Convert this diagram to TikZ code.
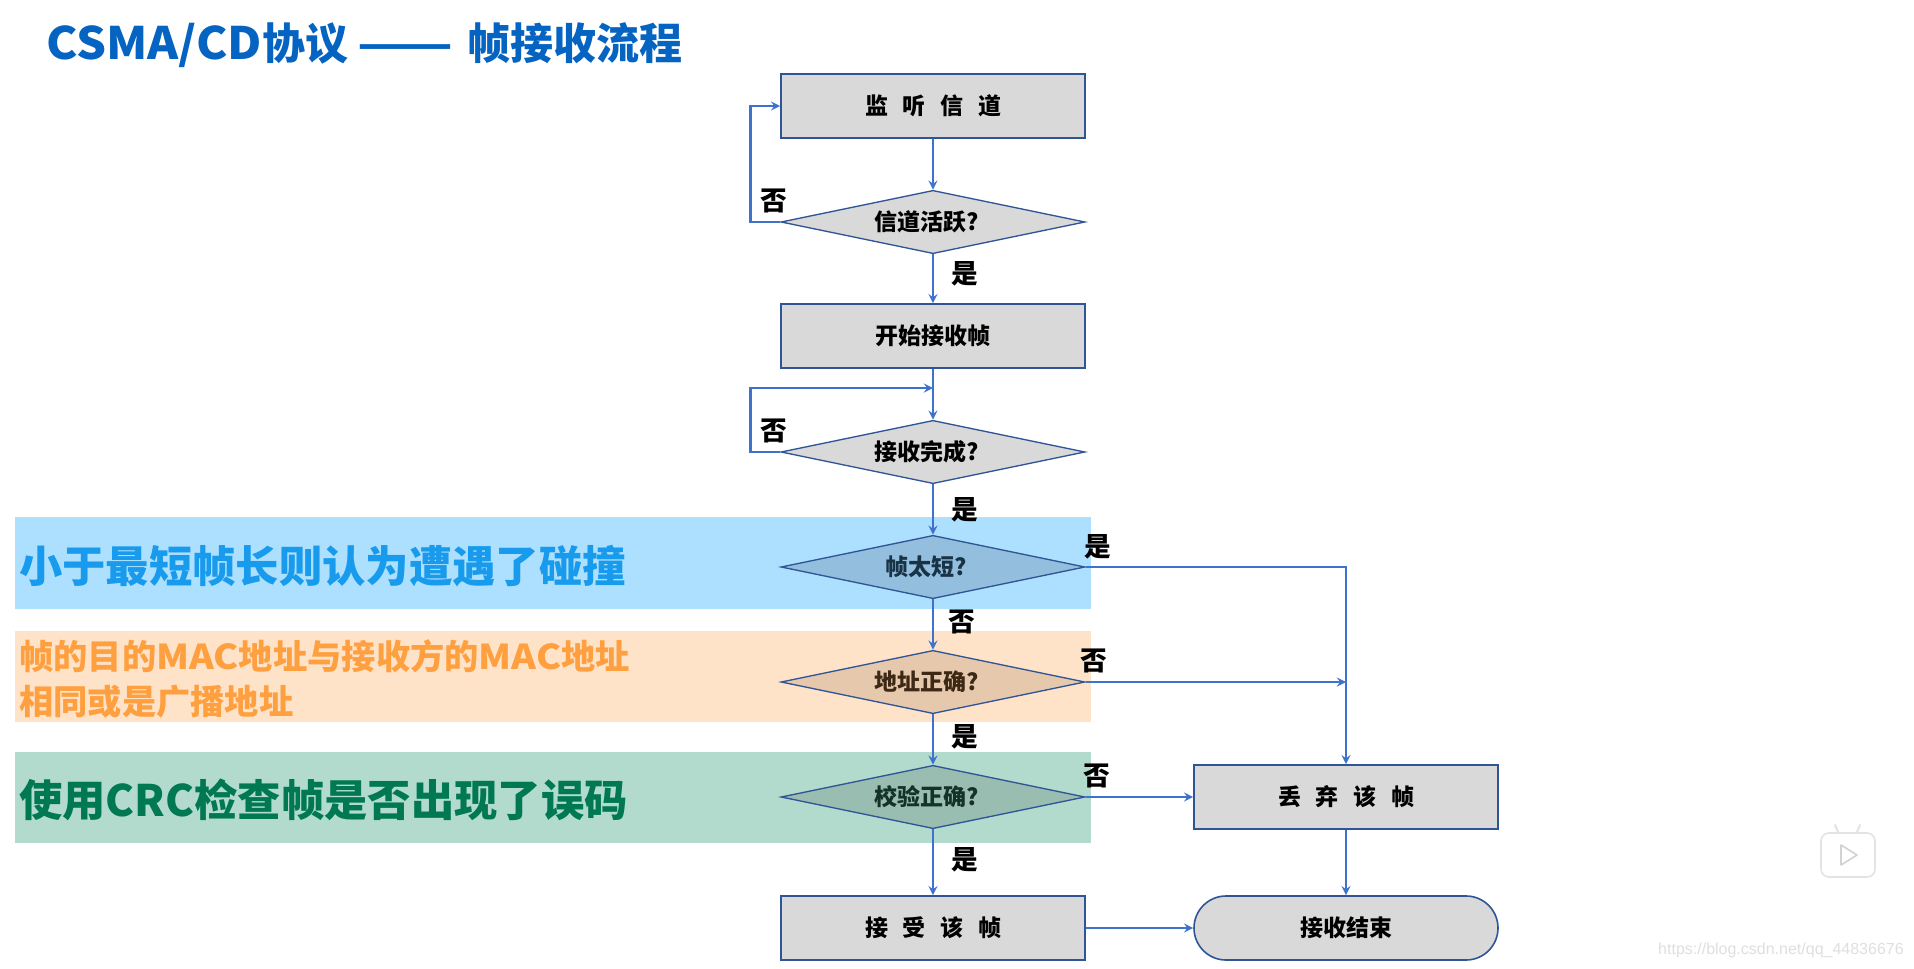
\documentclass[tikz,border=0pt]{standalone}
\usepackage{fontspec}
\usepackage{tikz}
\usetikzlibrary{shapes.geometric}
\newfontfamily\cjk{Noto Sans CJK SC}
\newfontfamily\wide{Noto Sans CJK SC}[FakeStretch=1.055]
\newfontfamily\mac{Noto Sans CJK SC}[FakeStretch=1.1]
\newfontfamily\dashes{Noto Sans CJK SC}[FakeStretch=1.3]
\setsansfont{Liberation Sans}
\definecolor{linec}{HTML}{3F72CC}
\definecolor{edgec}{HTML}{2F5597}
\definecolor{boxc}{HTML}{D9D9D9}
\definecolor{titlec}{HTML}{0563C1}
\tikzset{
    procbox/.style={draw=edgec, line width=1.2pt, fill=boxc, minimum width=228pt, minimum height=48pt, inner sep=0pt,
        font={\cjk\bfseries\fontsize{17.25}{20}\selectfont\spaceskip 11pt\relax}},
    decide/.style={diamond, aspect=4.8, draw=edgec, line width=1pt, fill=boxc, minimum width=228pt, minimum height=47.5pt, inner sep=0pt,
        font=\cjk\bfseries\fontsize{17.25}{20}\selectfont, execute at end node=\hspace{10pt}},
    lbl/.style={font=\cjk\bfseries\fontsize{20}{24}\selectfont, inner sep=0pt},
    bandtext/.style={anchor=west, inner sep=0pt, font=\cjk\bfseries\fontsize{32.5}{38}\selectfont},
    flow/.style={->, draw=linec, line width=2pt}
}
\begin{document}
\begin{tikzpicture}[>=stealth, x=0.75pt, y=-0.75pt]
    \useasboundingbox (0,0) rectangle (1914,968);
    \fill [white] (0,0) rectangle (1914,968);

    \fill [color={rgb,255:red,173;green,224;blue,255}] (15,517) rectangle (1091,609);
    \fill [color={rgb,255:red,255;green,227;blue,201}] (15,631) rectangle (1091,722);
    \fill [color={rgb,255:red,178;green,219;blue,206}] (15,752) rectangle (1091,843);

    \node (title) [anchor=west, inner sep=0pt, text=titlec, font=\cjk\bfseries\fontsize{32.25}{38}\selectfont] at (46,45) {{\wide\bfseries\fontsize{33.5}{38}\selectfont CSMA/CD}协议 {\dashes\bfseries\fontsize{32.25}{38}\selectfont ——}\hspace{3pt} 帧接收流程};
    \node (note1) [bandtext, text={rgb,255:red,24;green,155;blue,236}] at (19,566) {小于最短帧长则认为遭遇了碰撞};
    \node (note2) [bandtext, align=left, text={rgb,255:red,255;green,160;blue,64}, font=\cjk\bfseries\fontsize{25.7}{33.75}\selectfont] at (19,679) {帧的目的{\mac\bfseries MAC}地址与接收方的{\mac\bfseries MAC}地址\\相同或是广播地址};
    \node (note3) [bandtext, text={rgb,255:red,0;green,120;blue,82}] at (19,800) {使用CRC检查帧是否出现了误码};

    \node (listen) [procbox] at (933,106) {监 听 信 道};
    \node (active) [decide] at (933,222) {信道活跃?};
    \node (start) [procbox] at (933,336) {开始接收帧};
    \coordinate (merge) at (933,388);
    \node (done) [decide] at (933,452) {接收完成?};
    \node (tooshort) [decide, fill={rgb,255:red,148;green,190;blue,222}, text={rgb,255:red,24;green,50;blue,70}] at (933,567) {帧太短?};
    \node (addr) [decide, fill={rgb,255:red,230;green,201;blue,173}, text={rgb,255:red,60;green,40;blue,20}] at (933,682) {地址正确?};
    \node (crc) [decide, fill={rgb,255:red,153;green,189;blue,176}, text={rgb,255:red,20;green,50;blue,40}] at (933,797) {校验正确?};
    \node (accept) [procbox] at (933,928) {接 受 该 帧};
    \node (drop) [procbox] at (1346,797) {丢 弃 该 帧};
    \node (finish) [procbox, rounded corners=24pt] at (1346,928) {接收结束};
    \coordinate (join) at (1346,682);

    \draw [flow] (listen) -- (active);
    \draw [flow] (active) -- (start);
    \draw [flow] (active.west) -- ++(-30,0) |- (listen.west);
    \draw [flow] (start) -- (done);
    \draw [flow] (done.west) -- ++(-30,0) |- (merge);
    \draw [flow] (done) -- (tooshort);
    \draw [flow] (tooshort) -- (addr);
    \draw [flow] (addr) -- (crc);
    \draw [flow] (crc) -- (accept);
    \draw [flow] (tooshort.east) -| (drop.north);
    \draw [flow] (addr.east) -- (join);
    \draw [flow] (crc.east) -- (drop.west);
    \draw [flow] (accept.east) -- (finish.west);
    \draw [flow] (drop.south) -- (finish.north);

    \node (no1) [lbl] at (774,201) {否};
    \node (yes1) [lbl] at (965,274) {是};
    \node (no2) [lbl] at (774,431) {否};
    \node (yes2) [lbl] at (965,510) {是};
    \node (yes3) [lbl] at (1098,547) {是};
    \node (no3) [lbl] at (962,622) {否};
    \node (no4) [lbl] at (1094,661) {否};
    \node (yes4) [lbl] at (965,737) {是};
    \node (no5) [lbl] at (1097,776) {否};
    \node (yes5) [lbl] at (965,860) {是};

    \draw [gray!22, line width=1.2pt, fill=white, rounded corners=6pt] (1821,833) -- (1875,833) -- (1875,877) -- (1821,877) -- cycle;
    \draw [gray!22, line width=1.5pt, line cap=round] (1838,832) -- (1835,825) (1857,832) -- (1860,825);
    \draw [gray!35, line width=1.2pt, line join=round] (1841,845) -- (1857,855) -- (1841,865) -- cycle;
    \node (mark) [anchor=east, inner sep=0pt, text=gray!25, font=\sffamily\fontsize{12}{16}\selectfont] at (1904,950) {https://blog.csdn.net/qq\_44836676};
\end{tikzpicture}
\end{document}
